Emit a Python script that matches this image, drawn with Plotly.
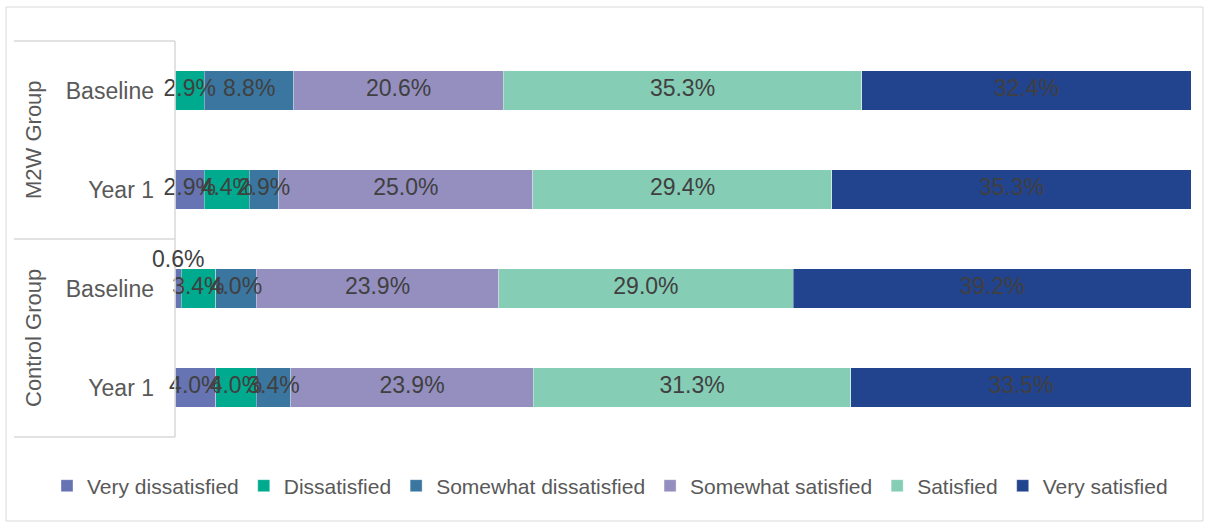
import plotly.graph_objects as go

# ---- data ----
groups = ["M2W Group", "M2W Group", "Control Group", "Control Group"]
periods = ["Baseline", "Year 1", "Baseline", "Year 1"]
series_names = ["Very dissatisfied", "Dissatisfied", "Somewhat dissatisfied",
                "Somewhat satisfied", "Satisfied", "Very satisfied"]
very_dissatisfied = [0.0, 2.9, 0.6, 4.0]
dissatisfied = [2.9, 4.4, 3.4, 4.0]
somewhat_dissatisfied = [8.8, 2.9, 4.0, 3.4]
somewhat_satisfied = [20.6, 25.0, 23.9, 23.9]
satisfied = [35.3, 29.4, 29.0, 31.3]
very_satisfied = [32.4, 35.3, 39.2, 33.5]
colors = ["#6674B3", "#00AA8E", "#3A76A0", "#958FC0", "#86CDB6", "#22438E"]

all_series = [very_dissatisfied, dissatisfied, somewhat_dissatisfied,
              somewhat_satisfied, satisfied, very_satisfied]

cats = [f"{g} | {p}" for g, p in zip(groups, periods)]

FONT = "Liberation Sans, Arial, sans-serif"
W, H = 1209, 523
ML, MR, MT, MB = 175, 18, 41, 86
PW, PH = W - ML - MR, H - MT - MB

def px_x(x):
    return (x - ML) / PW

def px_y(y):
    return 1 - (y - MT) / PH

fig = go.Figure()
for name, vals, col in zip(series_names, all_series, colors):
    fig.add_trace(go.Bar(
        y=cats, x=vals, name=name, orientation="h",
        marker=dict(color=col, line=dict(color="rgba(255,255,255,0.6)", width=0.6)),
        hoverinfo="skip",
    ))

# data labels on top of all bars (positions follow the 100% stacking)
totals = [sum(s[i] for s in all_series) for i in range(len(cats))]
lab_x, lab_y, lab_t = [], [], []
annotations = []
for i in range(len(cats)):
    cum = 0.0
    for s in all_series:
        v = s[i]
        mid = (cum + v / 2) / totals[i] * 100
        if v >= 1:
            lab_x.append(mid); lab_y.append(cats[i]); lab_t.append(f"{v:.1f}%")
        elif v > 0:
            annotations.append(dict(
                x=mid, y=cats[i], xref="x", yref="y", text=f"{v:.1f}%",
                showarrow=False, yshift=30,
                font=dict(family=FONT, size=23, color="#404040"),
            ))
        cum += v
fig.add_trace(go.Scatter(
    x=lab_x, y=lab_y, text=lab_t, mode="text", textposition="middle center",
    textfont=dict(family=FONT, size=23, color="#404040"),
    showlegend=False, hoverinfo="skip", cliponaxis=False,
))

# group labels
group_names = ["M2W Group", "Control Group"]
for k, g in enumerate(group_names):
    annotations.append(dict(
        x=px_x(33), y=0.75 - 0.5 * k, xref="paper", yref="paper", text=g,
        textangle=-90, showarrow=False, xanchor="center", yanchor="middle",
        font=dict(family=FONT, size=22, color="#595959"),
    ))

shapes = []
for yy in [1, 0.5, 0]:
    shapes.append(dict(type="line", xref="paper", yref="paper",
                       x0=px_x(14), x1=0, y0=yy, y1=yy,
                       line=dict(color="#D9D9D9", width=1.5)))
shapes.append(dict(type="line", xref="paper", yref="paper", x0=0, x1=0, y0=0, y1=1,
                   line=dict(color="#D9D9D9", width=1.5)))
shapes.append(dict(type="rect", xref="paper", yref="paper",
                   x0=px_x(6), x1=px_x(1203), y0=px_y(521), y1=px_y(7),
                   line=dict(color="#D9D9D9", width=1)))

fig.update_layout(
    width=W, height=H, barmode="stack", barnorm="percent", bargap=0.6,
    margin=dict(l=ML, r=MR, t=MT, b=MB, autoexpand=False),
    paper_bgcolor="white", plot_bgcolor="white",
    font=dict(family=FONT, size=22, color="#595959"),
    xaxis=dict(range=[0, 100], showgrid=False, showticklabels=False,
               zeroline=False, showline=False, fixedrange=True),
    yaxis=dict(categoryorder="array", categoryarray=cats, autorange="reversed",
               tickvals=cats, ticktext=periods, showgrid=False, zeroline=False,
               showline=False, ticks="", ticklabelstandoff=20,
               tickfont=dict(family=FONT, size=23, color="#595959")),
    legend=dict(orientation="h", xref="paper", yref="paper",
                x=px_x(47), xanchor="left",
                y=px_y(486), yanchor="middle", traceorder="normal",
                font=dict(family=FONT, size=21, color="#595959"),
                itemwidth=30, bgcolor="rgba(0,0,0,0)"),
    annotations=annotations, shapes=shapes, showlegend=True,
)

fig.write_html("out.html")
